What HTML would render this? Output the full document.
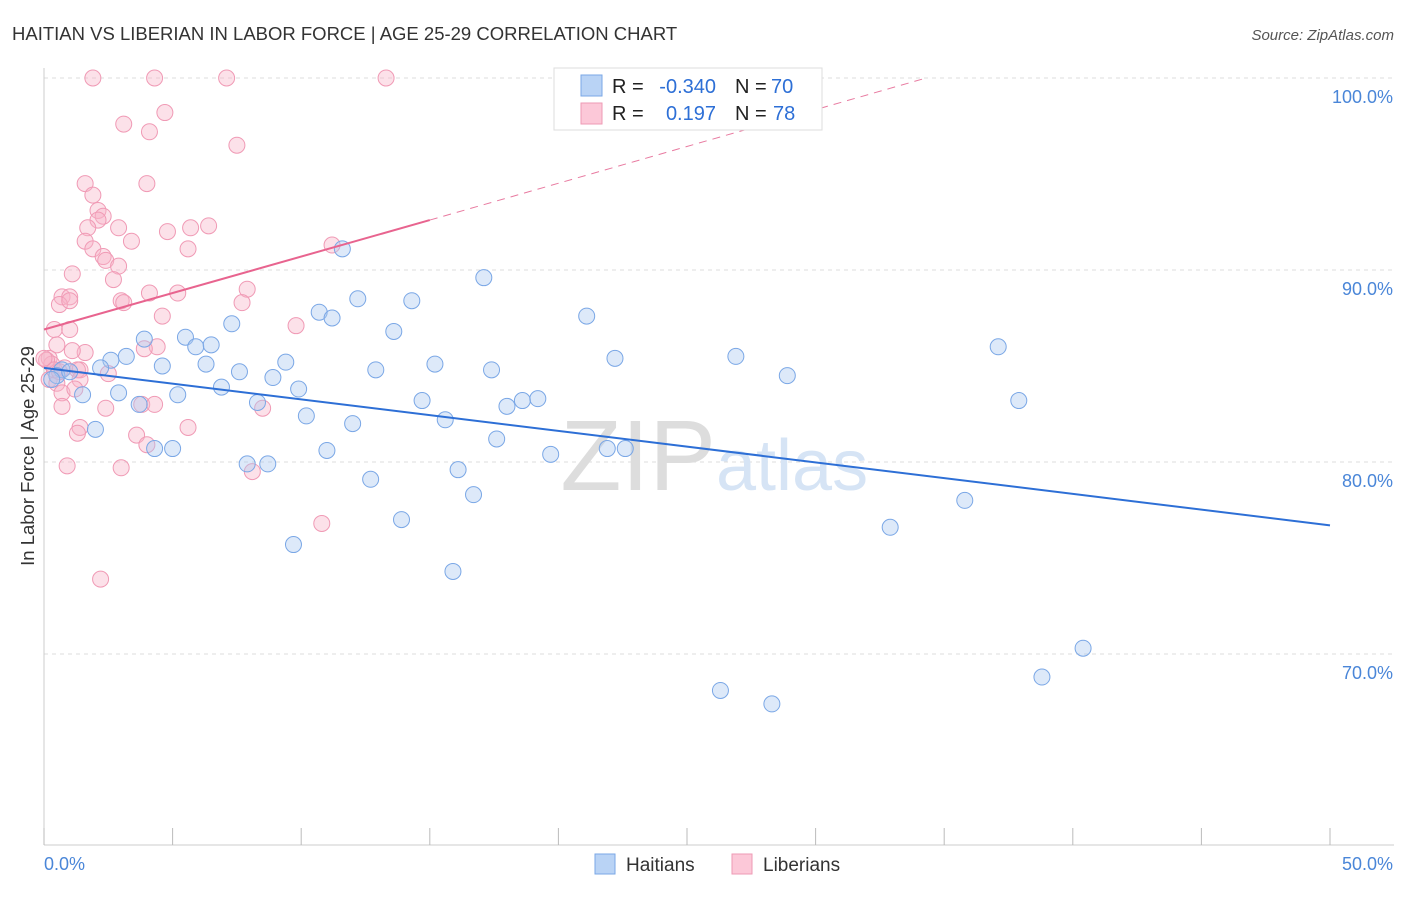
<!DOCTYPE html>
<html><head><meta charset="utf-8"><style>
body{margin:0;background:#fff;font-family:"Liberation Sans",sans-serif}
svg text{font-family:"Liberation Sans",sans-serif}
</style></head><body>
<svg width="1406" height="892">
<text x="12" y="40" font-size="18.5" fill="#333">HAITIAN VS LIBERIAN IN LABOR FORCE | AGE 25-29 CORRELATION CHART</text>
<text x="1394" y="40" font-size="15" fill="#555" text-anchor="end" font-style="italic">Source: ZipAtlas.com</text>
<g id="grid"></g>
<text x="716" y="490" font-size="100" fill="#ddd" text-anchor="end" font-family="Liberation Serif">ZIP</text>
<text x="716" y="490" font-size="72" fill="#d6e4f5">atlas</text>
<g id="pts"></g><g id="lines"></g>
<text transform="translate(34,456) rotate(-90)" font-size="18.5" fill="#333" text-anchor="middle">In Labor Force | Age 25-29</text>
<g>
<rect x="554" y="68" width="268" height="62" fill="#fff" stroke="#ddd"/>
<rect x="581" y="75" width="21" height="21" fill="#b9d3f5" stroke="#7aa7e6"/>
<rect x="581" y="103" width="21" height="21" fill="#fcc8d8" stroke="#ee9ab4"/>
<text x="612" y="93" font-size="20" fill="#222">R =</text>
<text x="716" y="93" font-size="20" fill="#2d6fd6" text-anchor="end">-0.340</text>
<text x="735" y="93" font-size="20" fill="#222">N =</text>
<text x="771" y="93" font-size="20" fill="#2d6fd6">70</text>
<text x="612" y="120" font-size="20" fill="#222">R =</text>
<text x="716" y="120" font-size="20" fill="#2d6fd6" text-anchor="end">0.197</text>
<text x="735" y="120" font-size="20" fill="#222">N =</text>
<text x="773" y="120" font-size="20" fill="#2d6fd6">78</text>
</g>
<g>
<rect x="595" y="854" width="20" height="20" fill="#b9d3f5" stroke="#7aa7e6"/>
<text x="626" y="871" font-size="19" fill="#333">Haitians</text>
<rect x="732" y="854" width="20" height="20" fill="#fcc8d8" stroke="#ee9ab4"/>
<text x="763" y="871" font-size="19" fill="#333">Liberians</text>
</g>
</svg>
<script>
const xTicks=[0,50];
const yTicks=[100,90,80,70];
const blueX=[29.2,11.6,17.1,12.2,14.3,10.7,11.2,21.1,7.3,3.9,5.5,5.9,6.5,13.6,37.1,26.9,22.2,15.2,3.2,2.6,4.6,6.3,7.6,9.4,12.9,17.4,28.9,2.2,0.7,0.5,1.0,0.3,1.5,2.9,5.2,6.9,8.9,9.9,8.3,3.7,14.7,18.6,19.2,18.0,37.9,10.2,12.0,15.6,2.0,4.3,5.0,11.0,17.6,21.9,22.6,19.7,7.9,8.7,16.1,12.7,16.7,35.8,13.9,32.9,9.7,15.9,40.4,38.8,26.3,28.3];
const blueY=[100,91.1,89.6,88.5,88.4,87.8,87.5,87.6,87.2,86.4,86.5,86.0,86.1,86.8,86.0,85.5,85.4,85.1,85.5,85.3,85.0,85.1,84.7,85.2,84.8,84.8,84.5,84.9,84.8,84.5,84.7,84.3,83.5,83.6,83.5,83.9,84.4,83.8,83.1,83.0,83.2,83.2,83.3,82.9,83.2,82.4,82.0,82.2,81.7,80.7,80.7,80.6,81.2,80.7,80.7,80.4,79.9,79.9,79.6,79.1,78.3,78.0,77.0,76.6,75.7,74.3,70.3,68.8,68.1,67.4];
const pinkX=[1.9,4.3,7.1,13.3,4.7,3.1,4.1,7.5,1.6,4.0,1.9,2.1,2.3,2.1,1.7,2.9,4.8,5.7,6.4,1.6,3.4,1.9,5.6,11.2,2.3,2.4,2.9,1.1,2.7,7.9,0.7,1.0,0.6,1.0,3.0,4.1,5.2,7.7,3.1,4.6,9.8,0.4,1.0,0.5,4.4,3.9,1.6,1.1,0.2,0.3,0.1,0.8,1.4,2.5,1.3,0.2,0.5,1.4,0.7,1.2,0.7,2.4,3.8,4.3,8.5,1.4,1.3,5.6,3.6,4.0,0.9,3.0,8.1,10.8,2.2,0.4,0.0,0.6];
const pinkY=[100,100,100,100,98.2,97.6,97.2,96.5,94.5,94.5,93.9,93.1,92.8,92.6,92.2,92.2,92.0,92.2,92.3,91.5,91.5,91.1,91.1,91.3,90.7,90.5,90.2,89.8,89.5,89.0,88.6,88.6,88.2,88.4,88.4,88.8,88.8,88.3,88.3,87.6,87.1,86.9,86.9,86.1,86.0,85.9,85.7,85.8,85.4,85.1,85.3,84.9,84.8,84.6,84.8,84.3,84.1,84.3,83.6,83.8,82.9,82.8,83.0,83.0,82.8,81.8,81.5,81.8,81.4,80.9,79.8,79.7,79.5,76.8,73.9,84.8,85.4,84.7];
const X=v=>44+v*25.72, Y=v=>78+(100-v)*19.2;
const ns="http://www.w3.org/2000/svg";
function mk(p,t,a){const e=document.createElementNS(ns,t);for(const k in a)e.setAttribute(k,a[k]);p.appendChild(e);return e;}
const g=document.getElementById('grid');
yTicks.forEach(v=>{const l=mk(g,'line',{x1:44,x2:1394,y1:Y(v),y2:Y(v),stroke:'#ddd','stroke-dasharray':'4,4'});


const t=mk(g,'text',{x:1393,y:Y(v)+25,'font-size':18,fill:'#4a86d8','text-anchor':'end'});t.textContent=v.toFixed(1)+'%';

});
mk(g,'line',{x1:44,x2:44,y1:68,y2:845,stroke:'#ccc'});
mk(g,'line',{x1:44,x2:1394,y1:845,y2:845,stroke:'#ccc'});
for(let i=0;i<=10;i++){mk(g,'line',{x1:X(i*5),x2:X(i*5),y1:828,y2:845,stroke:'#bbb'});}
xTicks.forEach((v,i)=>{const t=mk(g,'text',{x:i?1393:44,y:870,'font-size':18,fill:'#4a86d8','text-anchor':i?'end':'start'});t.textContent=v.toFixed(1)+'%';

});
const p=document.getElementById('pts');
pinkX.forEach((x,i)=>{const c=mk(p,'circle',{cx:X(x),cy:Y(pinkY[i]),r:8,fill:'rgba(248,180,200,0.4)',stroke:'#f09ab5','stroke-width':1});

});
blueX.forEach((x,i)=>{const c=mk(p,'circle',{cx:X(x),cy:Y(blueY[i]),r:8,fill:'rgba(170,200,240,0.4)',stroke:'#7aa7e6','stroke-width':1});

});
const L=document.getElementById('lines');
let l=mk(L,'line',{x1:X(0),y1:Y(84.9),x2:X(50),y2:Y(76.7),stroke:'#2d6fd6','stroke-width':2});


l=mk(L,'line',{x1:X(15),y1:Y(92.6),x2:X(34.3),y2:Y(100),stroke:'#e87aa0','stroke-width':1,'stroke-dasharray':'8,6'});


l=mk(L,'line',{x1:X(0),y1:Y(86.9),x2:X(15),y2:Y(92.6),stroke:'#e8648f','stroke-width':2});


</script>
</body></html>
